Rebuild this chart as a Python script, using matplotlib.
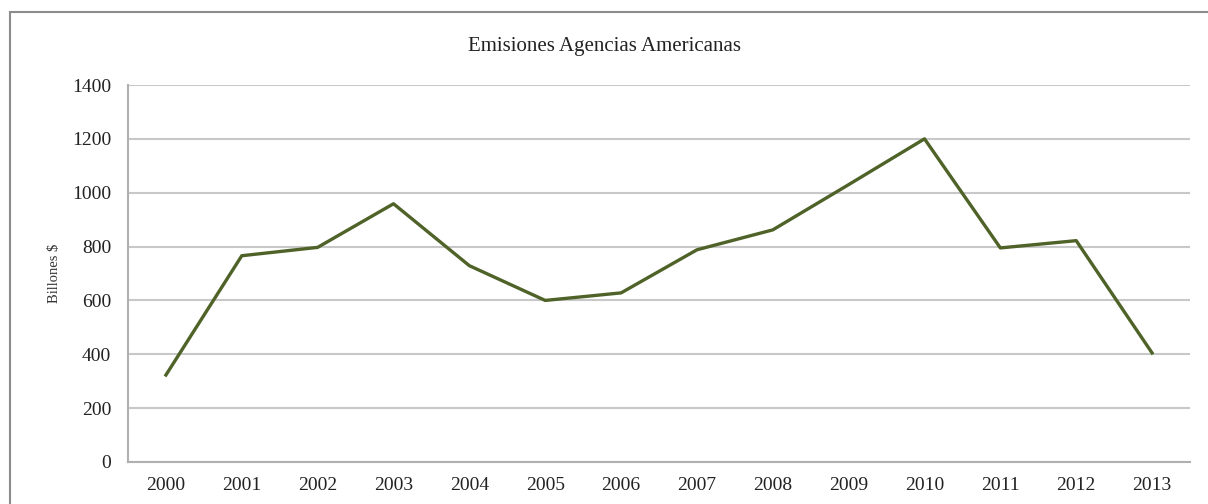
import matplotlib.pyplot as plt
from matplotlib.patches import Rectangle

years = ['2000', '2001', '2002', '2003', '2004', '2005', '2006',
         '2007', '2008', '2009', '2010', '2011', '2012', '2013']
emisiones = [323, 766, 797, 959, 729, 600, 628, 788, 862, 1030, 1200, 795, 822, 405]

plt.rcParams['font.family'] = ['Liberation Serif', 'DejaVu Serif']

fig = plt.figure(figsize=(12.08, 5.04), dpi=100)
fig.patches.append(Rectangle((10 / 1208, -0.5), 1.5, 0.5 + 1 - 12 / 504,
                             transform=fig.transFigure, fill=False,
                             edgecolor='#8c8c8c', linewidth=1.5))

ax = fig.add_axes([128 / 1208, 1 - 462 / 504, (1190 - 128) / 1208, (462 - 85) / 504])
ax.plot(range(len(years)), emisiones, color='#4F6228', linewidth=2.4)

ax.set_xlim(-0.5, len(years) - 0.5)
ax.set_ylim(0, 1400)
ax.set_yticks(range(0, 1401, 200))
ax.set_xticks(range(len(years)))
ax.set_xticklabels(years)
ax.grid(axis='y', color='#c8c8c8', linewidth=1.5)
ax.set_axisbelow(True)
ax.tick_params(length=0, labelsize=14, colors='#222222', pad=11)
ax.tick_params(axis='y', pad=12)
for side in ['top', 'right']:
    ax.spines[side].set_visible(False)
for side in ['left', 'bottom']:
    ax.spines[side].set_color('#b0b0b0')
    ax.spines[side].set_linewidth(1.5)

ax.set_ylabel('Billones $', fontsize=10.5, color='#333333', labelpad=8)
fig.text(0.5, 1 - 47 / 504, 'Emisiones Agencias Americanas', ha='center', va='center',
         fontsize=15, color='#222222')

fig.savefig('out.png', dpi=100)
